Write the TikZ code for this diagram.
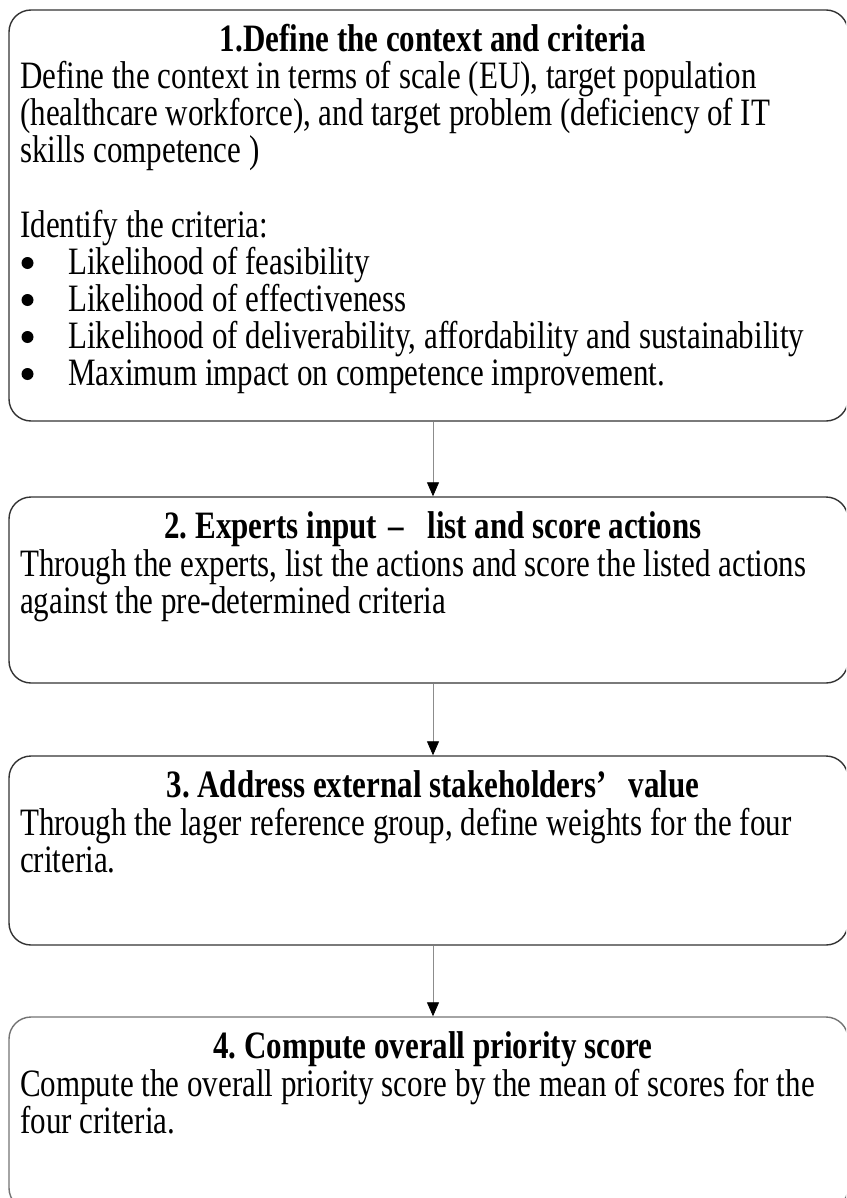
\documentclass[tikz,border=0pt]{standalone}
\usepackage{fontspec}
\usepackage{graphicx}
\setmainfont{Liberation Serif}
\frenchspacing
\usetikzlibrary{arrows.meta}

% the printed text is drawn taller than it is wide
\newcommand{\tall}[1]{\scalebox{1}[1.25]{#1}}

\tikzset{
  stepbox/.style={draw=black!80, line width=1.4pt, rounded corners=22pt, minimum width=839pt},
  head/.style={anchor=base, inner sep=0pt, font=\bfseries\fontsize{31}{37}\selectfont},
  body/.style={anchor=base west, inner sep=0pt, font=\fontsize{31}{37}\selectfont},
  dot/.style={circle, fill=black, inner sep=0pt, minimum size=12pt},
  flow/.style={draw=black!45, line width=0.8pt, -{Triangle[width=12pt,length=14pt,black]}}
}

\begin{document}
\begin{tikzpicture}[x=1pt,y=-1pt]
  \clip (0,0) rectangle (846,1198);

  % the four steps
  \node[stepbox, minimum height=411pt] (ctx)    at (428.5, 215.5) {};
  \node[stepbox, minimum height=186pt] (expert) at (428.5, 590)   {};
  \node[stepbox, minimum height=189pt] (stake)  at (428.5, 850.5) {};
  \node[stepbox, minimum height=193pt, draw=black!55] (prio) at (428.5, 1113.5) {};

  % step 1
  \node[head] (ctxhead) at (433, 52) {\tall{1.Define the context and criteria}};
  \node[body] (ctxa) at (20, 89)  {\tall{Define the context in terms of scale (EU), target population}};
  \node[body] (ctxb) at (20, 126) {\tall{(healthcare workforce), and target problem (deficiency of IT}};
  \node[body] (ctxc) at (20, 163) {\tall{skills competence )}};
  \node[body] (ctxd) at (20, 237) {\tall{Identify the criteria:}};
  \foreach \crit [count=\i] in {Likelihood of feasibility, Likelihood of effectiveness,
      {Likelihood of deliverability, affordability and sustainability},
      Maximum impact on competence improvement.} {
    \node[dot]  (bul\i)  at (27.5, {237+37*\i-11}) {};
    \node[body] (crit\i) at (68, {237+37*\i}) {\tall{\crit}};
  }

  % step 2
  \node[head] (experthead) at (433, 538) {\tall{2. Experts input\hspace{11pt}–\hspace{24pt}list and score actions}};
  \node[body] (experta) at (20, 576) {\tall{Through the experts, list the actions and score the listed actions}};
  \node[body] (expertb) at (20, 613) {\tall{against the pre-determined criteria}};

  % step 3
  \node[head] (stakehead) at (433, 797) {\tall{3. Address external stakeholders’\hspace{22pt}value}};
  \node[body] (stakea) at (20, 835) {\tall{Through the lager reference group, define weights for the four}};
  \node[body] (stakeb) at (20, 872) {\tall{criteria.}};

  % step 4
  \node[head] (priohead) at (433, 1058) {\tall{4. Compute overall priority score}};
  \node[body] (prioa) at (20, 1096) {\tall{Compute the overall priority score by the mean of scores for the}};
  \node[body] (priob) at (20, 1133) {\tall{four criteria.}};

  \draw[flow] ([xshift=4.5pt]ctx.south)    -- ([xshift=4.5pt]expert.north);
  \draw[flow] ([xshift=4.5pt]expert.south) -- ([xshift=4.5pt]stake.north);
  \draw[flow] ([xshift=4.5pt]stake.south)  -- ([xshift=4.5pt]prio.north);
\end{tikzpicture}
\end{document}
